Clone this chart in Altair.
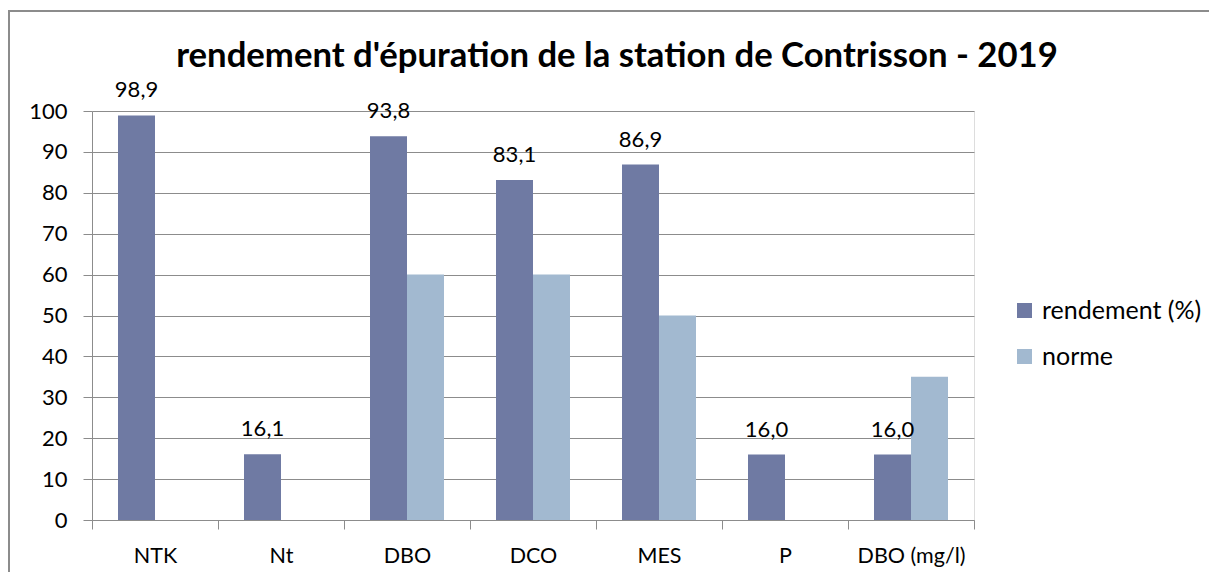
import altair as alt
import pandas as pd

categories = ["NTK", "Nt", "DBO", "DCO", "MES", "P", "DBO (mg/l)"]
rendement = [98.9, 16.1, 93.8, 83.1, 86.9, 16.0, 16.0]
norme = [None, None, 60, 60, 50, None, 35]
series_names = ["rendement (%)", "norme"]
colors = ["#6F7AA3", "#A2B9D0"]
y_ticks = [0, 10, 20, 30, 40, 50, 60, 70, 80, 90, 100]

rows = []
for c, r, n in zip(categories, rendement, norme):
    rows.append({"cat": c, "serie": series_names[0], "val": r})
    if n is not None:
        rows.append({"cat": c, "serie": series_names[1], "val": n})
df = pd.DataFrame(rows)

FONT = "Lato"
GRAY = "#8c8c8c"
W, H = 882, 409

x_enc = alt.X(
    "cat:N", sort=categories, title=None,
    scale=alt.Scale(paddingInner=0, paddingOuter=0),
    axis=alt.Axis(labelAngle=0, tickBand="extent", tickSize=9, tickColor=GRAY,
                  domainColor=GRAY, labelFontSize=21.5, labelPadding=16,
                  labelColor="#000", labelFont=FONT, grid=False),
)
y_enc = alt.Y(
    "val:Q", title=None, scale=alt.Scale(domain=[0, 100], nice=False),
    axis=alt.Axis(values=y_ticks, tickSize=9, tickColor=GRAY, domainColor=GRAY,
                  gridColor=GRAY, grid=True, labelFontSize=22, labelPadding=16,
                  labelColor="#000", labelFont=FONT),
)
xoff = alt.XOffset("serie:N", sort=series_names,
                   scale=alt.Scale(domain=series_names, paddingInner=0, paddingOuter=0.703))

bars = alt.Chart(df).mark_bar().encode(
    x=x_enc, y=y_enc, xOffset=xoff,
    color=alt.Color("serie:N", scale=alt.Scale(domain=series_names, range=colors),
                    legend=alt.Legend(title=None, orient="none", legendX=920, legendY=187,
                                      symbolType="square", symbolSize=225, symbolStrokeWidth=0,
                                      labelFontSize=25, labelFont=FONT, labelColor="#000",
                                      labelOffset=5, rowPadding=20, padding=0)),
)

labels = alt.Chart(df).transform_filter(
    alt.datum.serie == series_names[0]
).transform_calculate(
    lab="replace(format(datum.val, '.1f'), '.', ',')"
).mark_text(font=FONT, fontSize=22, dy=-18, baseline="alphabetic", color="#000").encode(
    x=alt.X("cat:N", sort=categories), y="val:Q", xOffset=xoff, text="lab:N"
)

frame_left = alt.Chart(df).mark_rule(color=GRAY, strokeWidth=2, clip=False).encode(
    x=alt.value(-83), y=alt.value(-100), y2=alt.value(470)
)
frame_top = alt.Chart(df).mark_rule(color=GRAY, strokeWidth=2, clip=False).encode(
    x=alt.value(-84), x2=alt.value(1120), y=alt.value(-100)
)

chart = alt.layer(bars, labels, frame_left, frame_top).properties(
    width=W, height=H,
    title=alt.TitleParams("rendement d'épuration de la station de Contrisson - 2019",
                          font=FONT, fontSize=34.7, fontWeight="bold", color="#000",
                          anchor="middle", dx=84, dy=73, offset=8),
    autosize=alt.AutoSizeParams(type="none"),
    padding={"left": 84, "top": 103, "right": 235, "bottom": 52},
).configure_view(stroke=None).configure(background="white")

chart.save("out.html", embed_options={"renderer": "svg", "actions": False})
